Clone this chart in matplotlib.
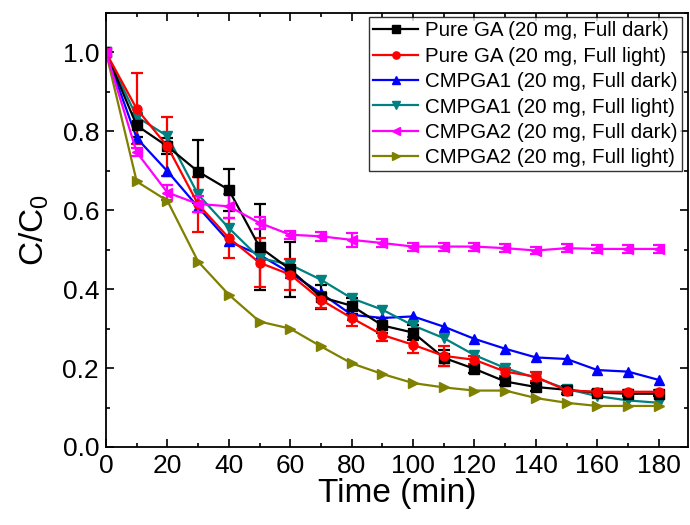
import numpy as np
import matplotlib
matplotlib.use("Agg")
from matplotlib import pyplot as plt
from matplotlib.ticker import MultipleLocator

plt.rcParams["font.family"] = ["Liberation Sans", "DejaVu Sans"]
plt.rcParams["mathtext.default"] = "regular"

# time points (min)
t = np.arange(0, 181, 10)

# C/C0 values
ga_dark = [1.0, 0.815, 0.762, 0.698, 0.652, 0.507, 0.45, 0.38, 0.358, 0.308,
           0.29, 0.226, 0.198, 0.166, 0.152, 0.145, 0.138, 0.135, 0.135]
ga_dark_err = [0, 0.03, 0.02, 0.08, 0.053, 0.11, 0.07, 0.03, 0.02, 0.02,
               0.02, 0.02, 0.01, 0.01, 0.01, 0.01, 0.005, 0.005, 0.005]
ga_light = [1.0, 0.857, 0.762, 0.615, 0.53, 0.467, 0.437, 0.373, 0.327, 0.284,
            0.259, 0.231, 0.221, 0.191, 0.178, 0.143, 0.14, 0.14, 0.14]
ga_light_err = [0, 0.09, 0.075, 0.07, 0.05, 0.062, 0.04, 0.02, 0.02, 0.015,
                0.02, 0.025, 0.01, 0.01, 0.012, 0.005, 0.005, 0.005, 0.005]
cm1_dark = [1.0, 0.783, 0.699, 0.608, 0.521, 0.487, 0.441, 0.39, 0.335, 0.327,
            0.331, 0.305, 0.274, 0.249, 0.227, 0.223, 0.195, 0.191, 0.17]
cm1_light = [1.0, 0.837, 0.788, 0.64, 0.555, 0.479, 0.462, 0.424, 0.377, 0.348,
             0.308, 0.276, 0.233, 0.2, 0.175, 0.147, 0.129, 0.118, 0.112]
cm2_dark = [1.0, 0.747, 0.645, 0.616, 0.61, 0.568, 0.538, 0.534, 0.525, 0.517,
            0.508, 0.508, 0.508, 0.504, 0.498, 0.504, 0.502, 0.502, 0.502]
cm2_dark_err = [0, 0.01, 0.02, 0.02, 0.03, 0.015, 0.01, 0.012, 0.017, 0.01,
                0.01, 0.01, 0.01, 0.01, 0.01, 0.01, 0.01, 0.01, 0.01]
cm2_light = [1.0, 0.673, 0.624, 0.47, 0.386, 0.318, 0.3, 0.255, 0.212, 0.185,
             0.162, 0.151, 0.143, 0.143, 0.124, 0.112, 0.104, 0.104, 0.104]

labels = ["Pure GA (20 mg, Full dark)", "Pure GA (20 mg, Full light)",
          "CMPGA1 (20 mg, Full dark)", "CMPGA1 (20 mg, Full light)",
          "CMPGA2 (20 mg, Full dark)", "CMPGA2 (20 mg, Full light)"]

fig = plt.figure(figsize=(6.9, 5.25), dpi=100)
ax = fig.add_axes([0.1536, 0.1486, 0.8434, 0.8266])

kw = dict(lw=1.6, ms=6.5, capsize=4, elinewidth=1.6, capthick=1.6)
e1 = ax.errorbar(t, ga_dark, yerr=ga_dark_err, color="black", marker="s", **kw)
e2 = ax.errorbar(t, ga_light, yerr=ga_light_err, color="red", marker="o", **kw)
l3, = ax.plot(t, cm1_dark, color="blue", marker="^", lw=1.6, ms=7.5)
l4, = ax.plot(t, cm1_light, color="#008080", marker="v", lw=1.6, ms=7.5)
e5 = ax.errorbar(t, cm2_dark, yerr=cm2_dark_err, color="magenta", marker="<", **kw)
l6, = ax.plot(t, cm2_light, color="#808000", marker=">", lw=1.6, ms=7.5)

ax.set_xlim(0, 189.5)
ax.set_ylim(0, 1.1)
ax.xaxis.set_major_locator(MultipleLocator(20))
ax.xaxis.set_minor_locator(MultipleLocator(10))
ax.yaxis.set_minor_locator(MultipleLocator(0.1))
ax.set_yticks(np.arange(0, 1.01, 0.2))
ax.set_yticklabels(["0.0", "0.2", "0.4", "0.6", "0.8", "1.0"])
ax.tick_params(which="both", direction="in", top=True, right=True, labelsize=19, width=1.2)
ax.tick_params(which="major", length=6, pad=5)
ax.tick_params(which="minor", length=3)
for s in ax.spines.values():
    s.set_linewidth(1.3)

ax.set_xlabel("Time (min)", fontsize=24, labelpad=0)
ax.set_ylabel("C/C$_0$", fontsize=24, labelpad=8)

handles = [e1[0], e2[0], l3, l4, e5[0], l6]
leg = ax.legend(handles, labels, loc="upper right", fontsize=14.8, frameon=True,
                fancybox=False, edgecolor="black", handlelength=2.2,
                handletextpad=0.35, labelspacing=0.31, borderpad=0.2,
                borderaxespad=0.0, markerscale=0.8, bbox_to_anchor=(0.99, 0.99))
leg.get_frame().set_linewidth(1.0)

plt.savefig("out.png", dpi=100)
